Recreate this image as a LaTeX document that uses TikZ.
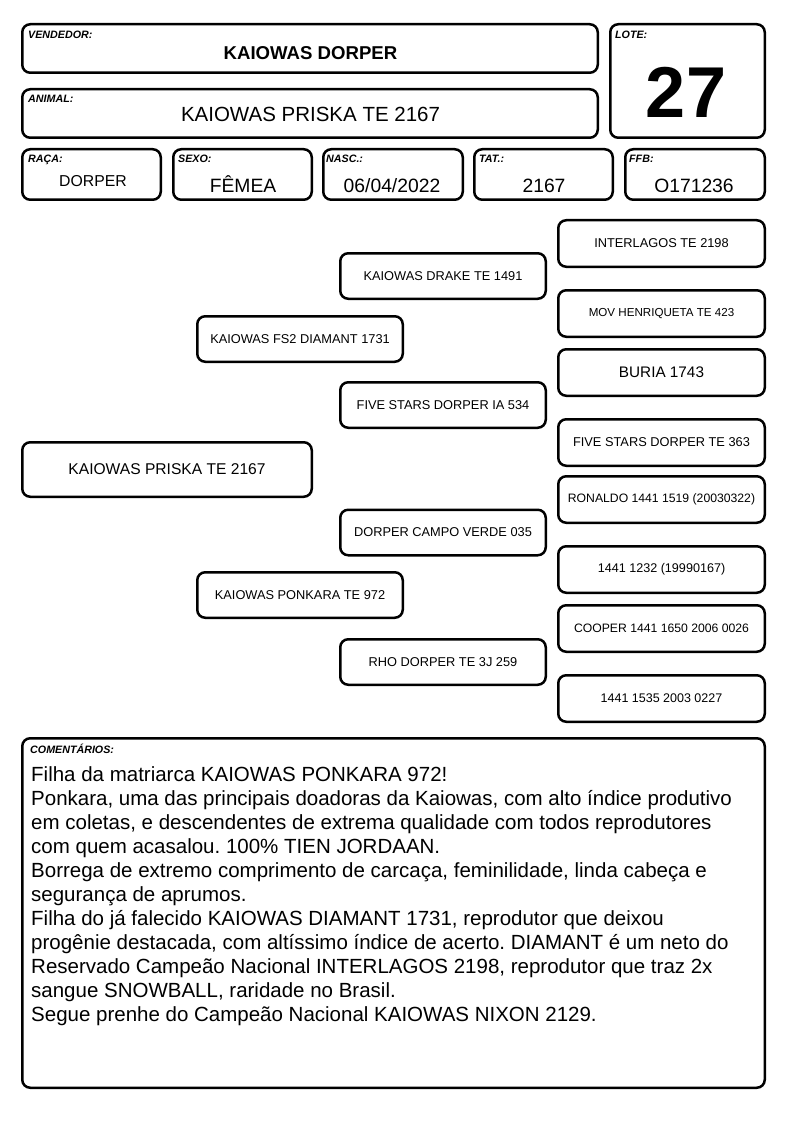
\documentclass[tikz,border=0pt]{standalone}
\usepackage{fontspec}
\setmainfont{Liberation Sans}
\frenchspacing
\newcommand{\fs}[1]{\fontsize{#1}{#1}\selectfont}
\tikzset{
  box/.style={draw=black, line width=2.5pt, rounded corners=8pt, inner sep=0pt, fill=white},
  lbl/.style={anchor=base west, inner sep=0pt, font=\fs{10.7}\bfseries\itshape},
  val/.style={anchor=base, inner sep=0pt, font=\fs{19.3}},
  pbox/.style={box, minimum width=205.5pt, minimum height=45.5pt, font=\fs{12.8}},
  rbox/.style={box, minimum width=206.5pt, minimum height=46.5pt, font=\fs{12.8}},
  ctext/.style={anchor=base west, inner sep=0pt, font=\fs{20.5}},
}
\begin{document}
\begin{tikzpicture}[x=1pt, y=-1pt]
\useasboundingbox[fill=white] (0,0) rectangle (794,1123);

% header boxes
\node[box, minimum width=575.5pt, minimum height=48.5pt] (vend) at (310,48.5) {};
\node[box, minimum width=575.5pt, minimum height=48.5pt] (anim) at (310,113.5) {};
\node[box, minimum width=154.5pt, minimum height=113.5pt] (lote) at (687.5,81) {};
\node[box, minimum width=138.5pt, minimum height=50.5pt] (raca) at (91.5,174.5) {};
\node[box, minimum width=138.5pt, minimum height=50.5pt] (sexo) at (242.5,174.5) {};
\node[box, minimum width=139.5pt, minimum height=50.5pt] (nasc) at (393,174.5) {};
\node[box, minimum width=138.5pt, minimum height=50.5pt] (tat) at (543.5,174.5) {};
\node[box, minimum width=139.5pt, minimum height=50.5pt] (ffb) at (695,174.5) {};

\node[lbl] (lvend) at (28,39) {VENDEDOR:};
\node[lbl] (lanim) at (28,103) {ANIMAL:};
\node[lbl] (llote) at (615,39) {LOTE:};
\node[lbl] (lraca) at (28,163) {RAÇA:};
\node[lbl] (lsexo) at (178,163) {SEXO:};
\node[lbl] (lnasc) at (326,163) {NASC.:};
\node[lbl] (ltat) at (479,163) {TAT.:};
\node[lbl] (lffb) at (629,163) {FFB:};

\node[val, font=\fs{18.6}\bfseries] (vvend) at (310.5,60) {KAIOWAS DORPER};
\node[val, font=\fs{20.5}] (vanim) at (310.5,122) {KAIOWAS PRISKA TE 2167};
\node[val, font=\fs{72}\bfseries] (vlote) at (686,118) {27};
\node[val, font=\fs{15.8}] (vraca) at (93,187) {DORPER};
\node[val] (vsexo) at (243,193) {FÊMEA};
\node[val] (vnasc) at (392,193) {06/04/2022};
\node[val] (vtat) at (544,193) {2167};
\node[val] (vffb) at (694,193) {O171236};

% pedigree
\node[box, minimum width=289.5pt, minimum height=54.5pt, font=\fs{15.6}] (priska) at (167,469.5) {KAIOWAS PRISKA TE 2167};
\node[pbox] (fs2) at (300,339) {KAIOWAS FS2 DIAMANT 1731};
\node[pbox] (ponk) at (300,595) {KAIOWAS PONKARA TE 972};
\node[pbox] (drake) at (443,276) {KAIOWAS DRAKE TE 1491};
\node[pbox] (five534) at (443,405) {FIVE STARS DORPER IA 534};
\node[pbox] (campo) at (443,532.5) {DORPER CAMPO VERDE 035};
\node[pbox] (rho) at (443,662) {RHO DORPER TE 3J 259};

\node[rbox] (inter) at (661.5,243.5) {INTERLAGOS TE 2198};
\node[rbox, font=\fs{11.6}] (mov) at (661.5,313.5) {MOV HENRIQUETA TE 423};
\node[rbox, font=\fs{15.3}] (buria) at (661.5,372.5) {BURIA 1743};
\node[rbox] (five363) at (661.5,442.5) {FIVE STARS DORPER TE 363};
\node[rbox, font=\fs{12.2}] (ronaldo) at (661.5,499.5) {RONALDO 1441 1519 (20030322)};
\node[rbox, font=\fs{12.6}] (r1232) at (661.5,569.5) {1441 1232 (19990167)};
\node[rbox, font=\fs{12.2}] (cooper) at (661.5,628.5) {COOPER 1441 1650 2006 0026};
\node[rbox, font=\fs{12.5}] (r1535) at (661.5,698.5) {1441 1535 2003 0227};

% comments
\node[box, minimum width=742.5pt, minimum height=349.5pt] (coment) at (393.5,913) {};
\node[lbl] (lcoment) at (30,753) {COMENTÁRIOS:};
\node[ctext] (c1) at (31,781) {Filha da matriarca KAIOWAS PONKARA 972!};
\node[ctext] (c2) at (31,805) {Ponkara, uma das principais doadoras da Kaiowas, com alto índice produtivo};
\node[ctext] (c3) at (31,829) {em coletas, e descendentes de extrema qualidade com todos reprodutores};
\node[ctext] (c4) at (31,853) {com quem acasalou. 100\% TIEN JORDAAN.};
\node[ctext] (c5) at (31,877) {Borrega de extremo comprimento de carcaça, feminilidade, linda cabeça e};
\node[ctext] (c6) at (31,901) {segurança de aprumos.};
\node[ctext] (c7) at (31,925) {Filha do já falecido KAIOWAS DIAMANT 1731, reprodutor que deixou};
\node[ctext] (c8) at (31,949) {progênie destacada, com altíssimo índice de acerto. DIAMANT é um neto do};
\node[ctext] (c9) at (31,973) {Reservado Campeão Nacional INTERLAGOS 2198, reprodutor que traz 2x};
\node[ctext] (c10) at (31,997) {sangue SNOWBALL, raridade no Brasil.};
\node[ctext] (c11) at (31,1021) {Segue prenhe do Campeão Nacional KAIOWAS NIXON 2129.};
\end{tikzpicture}
\end{document}
